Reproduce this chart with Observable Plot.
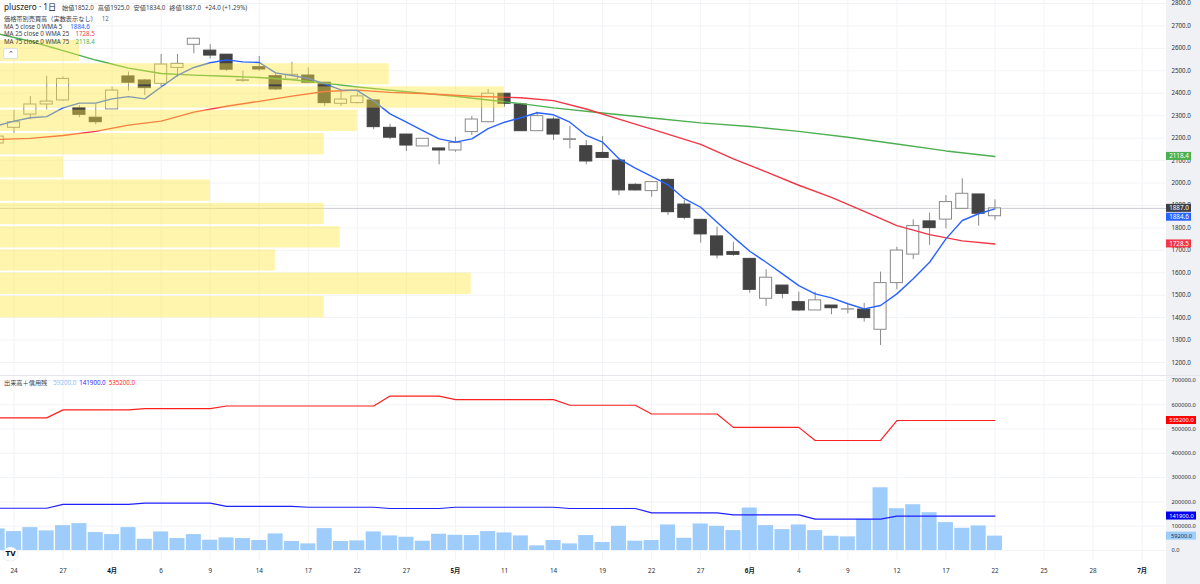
<!DOCTYPE html>
<html lang="ja"><head><meta charset="utf-8">
<script src="https://cdn.jsdelivr.net/npm/d3@7"></script>
<script src="https://cdn.jsdelivr.net/npm/@observablehq/plot@0.6"></script>
<style>
html,body{margin:0;padding:0;background:#fff;}
body{font-family:"Noto Sans","Noto Sans CJK JP",sans-serif;color:#131722;}
#wrap{position:relative;width:1200px;height:584px;overflow:hidden;background:#fff;}
#axisbg{position:absolute;left:1166px;top:0;width:34px;height:584px;background:#f0f1f4;}
#main{position:absolute;left:0;top:0;}
#sub{position:absolute;left:0;top:375px;}
#sep{position:absolute;left:0;top:375px;width:1200px;height:1px;background:#e4e6ec;}
.lg{position:absolute;left:4px;white-space:nowrap;font-size:6.2px;line-height:8px;color:#3a3e48;}
.k{color:#3a3e48;margin-left:4px;}
.v{color:#3a3e48;}
#btn{position:absolute;left:3px;top:48px;width:13px;height:9px;border:1px solid #dcdfe6;border-radius:2px;background:#fff;font-size:7px;line-height:10px;text-align:center;color:#333;}
#tv{position:absolute;left:3px;top:547px;width:15px;height:14px;border-radius:50%;background:#fff;box-shadow:0 0 1px #bbb;font-size:7px;font-weight:bold;line-height:14px;text-align:center;color:#111;font-family:"DejaVu Sans",sans-serif;}
</style></head><body>
<div id="wrap">
  <div id="axisbg"></div>
  <div id="main"></div>
  <div id="sub"></div>
  <div id="sep"></div>
  <div class="lg" id="lg1" style="top:2px;line-height:10px;"></div>
  <div class="lg" id="lg2" style="top:15px;"></div>
  <div class="lg" id="lg3" style="top:22.5px;"></div>
  <div class="lg" id="lg4" style="top:30.3px;"></div>
  <div class="lg" id="lg5" style="top:38.2px;"></div>
  <div id="btn">&#8963;</div>
  <div class="lg" id="lg6" style="top:379px;"></div>
  <div id="tv">TV</div>
</div>
<script>
// ---------- DATA ----------
const firstBar = -1, lastBar = 60;
const opens  = [2176,2246,2305,2350,2368,2333,2291,2328,2475,2457,2442,2513,2616,2590,2572,2455,2516,2476,2461,2479,2447,2353,2356,2368,2246,2216,2163,2154,2145,2227,2271,2398,2350,2231,2283,2192,2164,2134,2100,1992,1964,2014,1904,1836,1762,1692,1662,1484,1543,1469,1432,1454,1436,1436,1346,1554,1681,1829,1837,1885,1949,1852];
const highs  = [2215,2323,2386,2476,2472,2345,2350,2427,2494,2461,2573,2573,2645,2617,2572,2498,2564,2489,2538,2513,2449,2408,2400,2371,2261,2216,2197,2156,2204,2296,2417,2398,2356,2316,2294,2253,2189,2207,2100,1997,2004,2019,1922,1836,1803,1736,1662,1613,1543,1514,1514,1454,1459,1464,1603,1714,1836,1866,1944,2019,1949,1925];
const lows   = [2170,2222,2282,2326,2363,2291,2259,2328,2409,2390,2430,2472,2576,2553,2498,2449,2498,2412,2457,2445,2341,2341,2353,2237,2193,2140,2163,2081,2137,2212,2268,2338,2231,2231,2189,2152,2081,2112,1944,1964,1937,1855,1836,1732,1662,1673,1509,1450,1484,1427,1432,1413,1417,1380,1276,1524,1659,1722,1796,1882,1808,1834];
const closes = [2207,2271,2350,2363,2464,2304,2271,2412,2447,2423,2528,2531,2643,2568,2505,2458,2506,2417,2482,2447,2356,2372,2386,2249,2202,2167,2197,2145,2179,2283,2398,2353,2231,2298,2216,2195,2096,2112,1967,1967,2004,1870,1845,1771,1677,1680,1524,1578,1506,1432,1477,1442,1437,1398,1554,1699,1808,1799,1915,1952,1863,1887];
const ma5    = [2256,2276,2291,2296,2335,2356,2356,2375,2385,2375,2428,2480,2515,2536,2549,2540,2537,2491,2479,2466,2442,2415,2412,2366,2308,2271,2234,2197,2182,2197,2242,2271,2291,2313,2304,2271,2212,2182,2108,2066,2030,1992,1930,1892,1825,1759,1696,1647,1595,1543,1506,1488,1462,1439,1454,1506,1573,1647,1751,1833,1863,1884.6];
const ma25Bars = [-1,1,3,5,7,9,11,13,15,17,19,21,23,25,28,31,33,35,37,39,42,44,46,48,50,52,54,56,58,60];
const ma25     = [2194,2199,2212,2230,2258,2276,2316,2342,2364,2387,2408,2414,2404,2399,2387,2380,2367,2330,2285,2240,2172,2108,2050,1990,1936,1874,1810,1770,1742,1728.5];
const ma75Bars = [-1,1,3,5,7,9,11,13,15,17,19,21,23,25,27,29,31,33,36,39,42,45,48,51,54,57,60];
const ma75     = [2665,2632,2590,2548,2512,2488,2481,2476,2470,2460,2445,2428,2414,2400,2387,2370,2354,2335,2312,2290,2268,2252,2230,2204,2174,2143,2118.4];
const volumes = [88900,77900,94300,80700,102500,110700,73800,65600,94300,46300,76500,49200,65600,42300,51900,49200,41000,68300,36900,27300,90200,36900,39600,76500,60100,54600,38300,67000,62800,61500,77900,72400,60100,19100,41000,27300,61500,32800,99700,38300,41000,105200,50500,109300,99700,82000,174900,102500,86100,105200,82000,58700,56000,128400,258200,172100,188500,155700,114800,91400,101200,59200];
const buyStart  = [-1,3,8,13,23,27,34,39,44,49,54];
const buyValues = [546000,579000,584000,595000,636000,621000,598000,562000,507000,453000,535200];
const sellStart  = [-1,3,8,13,18,23,27,34,39,44,49,54];
const sellValues = [174000,190000,195000,182000,178000,173000,178000,173000,155000,147000,129000,141900];
const vpLevels = [2640,2536,2433,2329,2225,2121,2018,1914,1810,1706,1603,1499,1395];
const vpVolume = [790,3890,5040,3570,3240,630,2100,3240,3400,2750,4710,3240];
const priceTicks = [1200,1300,1400,1500,1600,1700,1800,1900,2000,2100,2200,2300,2400,2500,2600,2700,2800];
const volTicks = [0,100000,200000,300000,400000,500000,600000,700000];
const xTickBars = [0,3,6,9,12,15,18,21,24,27,30,33,36,39,42,45,48,51,54,57,60,63,66,69];
const xTickLabels = ["24","27","4月","6","9","14","17","22","27","5月","11","14","19","22","27","6月","4","9","12","17","22","25","28","7月"];

// ---------- BUILD ----------
const bars = d3.range(firstBar, lastBar + 1);
const candles = bars.map((b, k) => ({i: b, open: opens[k], high: highs[k], low: lows[k], close: closes[k]}));
const ma5Data = bars.map((b, k) => ({i: b, v: ma5[k]}));
const ma25Data = ma25Bars.map((b, k) => ({i: b, v: ma25[k]}));
const ma75Data = ma75Bars.map((b, k) => ({i: b, v: ma75[k]}));
const volData = bars.map((b, k) => ({i: b, v: volumes[k]}));
function stepPts(starts, vals) {
  const pts = [];
  starts.forEach((s, j) => {
    const e = j < starts.length - 1 ? starts[j + 1] - 1 : lastBar;
    pts.push({i: s, v: vals[j]}, {i: e, v: vals[j]});
  });
  return pts;
}
const buyPts = stepPts(buyStart, buyValues);
const sellPts = stepPts(sellStart, sellValues);
const xDom = [-0.826, 70.49];
const vpMax = d3.max(vpVolume);
const vpRows = vpVolume.map((v, k) => ({hi: vpLevels[k], lo: vpLevels[k + 1], v}));
const vpSpan = 0.432 * (xDom[1] - xDom[0]);
const ticks = xTickBars.map((b, k) => ({i: b, t: xTickLabels[k], m: /月/.test(xTickLabels[k])}));

const lastClose = closes[closes.length - 1];
const lastMa5 = ma5[ma5.length - 1], lastMa25 = ma25[ma25.length - 1], lastMa75 = ma75[ma75.length - 1];
const lastVol = volumes[volumes.length - 1], lastBuy = buyValues[buyValues.length - 1], lastSell = sellValues[sellValues.length - 1];

const C = {up: "#ffffff", down: "#434343", wick: "#8a8a8a", ma5: "#2962ff", ma25: "#f23645", ma75: "#4caf50",
  grid: "#f2f3f6", vp: "#ffe83b", vol: "#9fcdfb", buy: "#ff1f1f", sell: "#1f1fff", price: "#c9cbd1", dark: "#3c3f46"};
const font = '"Noto Sans","Noto Sans CJK JP",sans-serif';

function box(v, fill, txt, w, opts = {}) {
  const dy = opts.dy || 0;
  return [
    Plot.rect([v], {x1: xDom[1], x2: xDom[1], y1: d => d, y2: d => d, insetLeft: 0, insetRight: -w,
      insetTop: -4 + dy, insetBottom: -4 - dy, fill}),
    Plot.text([v], {x: xDom[1], y: d => d, text: () => txt, dx: w / 2, dy, fill: opts.color || "#fff",
      fontSize: opts.fontSize || 6.3, textAnchor: "middle"})
  ];
}

const main = Plot.plot({
  width: 1200, height: 375, marginLeft: 0, marginRight: 34, marginTop: 0, marginBottom: 0,
  style: {background: "transparent", fontFamily: font, color: "#2a2e39", overflow: "visible"},
  x: {domain: xDom, axis: null, label: null},
  y: {domain: [1142.2, 2813.4], axis: null, label: null},
  marks: [
    Plot.ruleX(xTickBars, {stroke: C.grid}),
    Plot.ruleY(priceTicks, {stroke: C.grid}),
    Plot.ruleY([lastClose], {stroke: C.price, strokeWidth: 1}),
    Plot.ruleX(candles, {x: "i", y1: "low", y2: "high", stroke: C.wick, strokeWidth: 1}),
    Plot.rect(candles, {x1: d => d.i - 0.37, x2: d => d.i + 0.37, y1: "open", y2: "close",
      fill: d => d.close >= d.open ? C.up : C.down,
      stroke: d => d.close >= d.open ? C.wick : C.down, strokeWidth: 1}),
    Plot.line(ma75Data, {x: "i", y: "v", stroke: C.ma75, strokeWidth: 1.4}),
    Plot.line(ma25Data, {x: "i", y: "v", stroke: C.ma25, strokeWidth: 1.4}),
    Plot.line(ma5Data, {x: "i", y: "v", stroke: C.ma5, strokeWidth: 1.4}),
    Plot.rect(vpRows, {x1: xDom[0], x2: d => xDom[0] + d.v / vpMax * vpSpan, y1: "lo", y2: "hi",
      insetTop: 1, insetBottom: 1, fill: C.vp, fillOpacity: 0.42}),
    Plot.axisY({anchor: "right", label: null, ticks: priceTicks, tickFormat: d => d.toFixed(1), tickSize: 0, tickPadding: 5, fontSize: 6.2}),
    ...box(lastMa75, C.ma75, lastMa75.toFixed(1), 25),
    ...box(lastClose, C.dark, lastClose.toFixed(1), 25),
    ...box(lastMa5, C.ma5, lastMa5.toFixed(1), 25, {dy: 8.3}),
    ...box(lastMa25, C.ma25, lastMa25.toFixed(1), 25)
  ]
});
document.getElementById("main").appendChild(main);

const sub = Plot.plot({
  width: 1200, height: 209, marginLeft: 0, marginRight: 34, marginTop: 0, marginBottom: 24,
  style: {background: "transparent", fontFamily: font, color: "#2a2e39", overflow: "visible"},
  x: {domain: xDom, axis: null, label: null},
  y: {domain: [-41176, 720588], axis: null, label: null},
  marks: [
    Plot.ruleX(xTickBars, {stroke: C.grid, y1: -41176, y2: 720588}),
    Plot.ruleY(volTicks, {stroke: C.grid}),
    Plot.rect(volData, {x1: d => d.i - 0.46, x2: d => d.i + 0.46, y1: 0, y2: "v", fill: C.vol}),
    Plot.line(sellPts, {x: "i", y: "v", stroke: C.sell, strokeWidth: 1.2}),
    Plot.line(buyPts, {x: "i", y: "v", stroke: C.buy, strokeWidth: 1.2}),
    Plot.axisY({anchor: "right", label: null, ticks: volTicks, tickFormat: d => d.toFixed(1), tickSize: 0, tickPadding: 5, fontSize: 5.7}),
    ...box(lastBuy, "#ff0000", lastBuy.toFixed(1), 30, {fontSize: 5.7}),
    ...box(lastSell, "#0000ee", lastSell.toFixed(1), 30, {fontSize: 5.7}),
    ...box(lastVol, "#9fcdfb", lastVol.toFixed(1), 30, {color: "#22344f", fontSize: 5.7}),
    Plot.text(ticks.filter(d => !d.m), {x: "i", text: "t", frameAnchor: "bottom", dy: 12, fontSize: 6.3, fill: "#2a2e39"}),
    Plot.text(ticks.filter(d => d.m), {x: "i", text: "t", frameAnchor: "bottom", dy: 12, fontSize: 6.3, fontWeight: "bold", fill: "#131722"})
  ]
});
document.getElementById("sub").appendChild(sub);

// ---------- LEGENDS ----------
const f1 = d => d.toFixed(1);
const chg = lastClose - closes[closes.length - 2];
document.getElementById("lg1").innerHTML =
  `<span style="font-size:8.2px;color:#131722">pluszero · 1日</span>` +
  `<span class="k" style="margin-left:6px">始値</span><span class="v">${f1(opens.at(-1))}</span>` +
  `<span class="k">高値</span><span class="v">${f1(highs.at(-1))}</span>` +
  `<span class="k">安値</span><span class="v">${f1(lows.at(-1))}</span>` +
  `<span class="k">終値</span><span class="v">${f1(lastClose)}</span>` +
  `<span class="v" style="margin-left:4px">${chg >= 0 ? "+" : ""}${f1(chg)} (+${(chg / closes.at(-2) * 100).toFixed(2)}%)</span>`;
document.getElementById("lg2").innerHTML = `価格帯別売買高（実数表示なし）<span style="margin-left:5px;color:#666">${vpVolume.length}</span>`;
document.getElementById("lg3").innerHTML = `MA 5 close 0 WMA 5<span style="margin-left:8px;color:${C.ma5}">${f1(lastMa5)}</span>`;
document.getElementById("lg4").innerHTML = `MA 25 close 0 WMA 25<span style="margin-left:6px;color:${C.ma25}">${f1(lastMa25)}</span>`;
document.getElementById("lg5").innerHTML = `MA 75 close 0 WMA 75<span style="margin-left:6px;color:${C.ma75}">${f1(lastMa75)}</span>`;
document.getElementById("lg6").innerHTML = `出来高＋信用残<span style="margin-left:6px;color:#8fc0f7">${f1(lastVol)}</span>` +
  `<span style="margin-left:3px;color:#2a2aff">${f1(lastSell)}</span><span style="margin-left:3px;color:#ff2a2a">${f1(lastBuy)}</span>`;
</script>
</body></html>
